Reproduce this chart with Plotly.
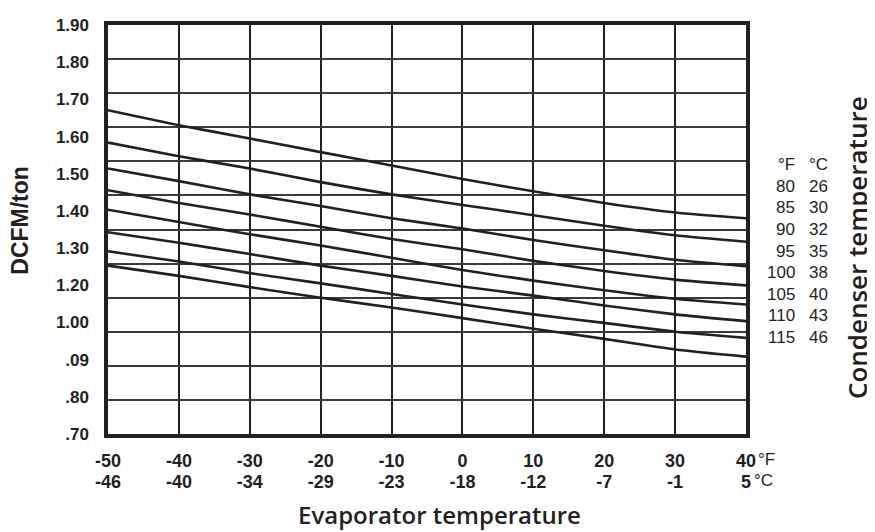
import plotly.graph_objects as go

# ---- data ----
evap_F = [-50, -40, -30, -20, -10, 0, 10, 20, 30, 40]
evap_C = [-46, -40, -34, -29, -23, -18, -12, -7, -1, 5]

cond_F = [80, 85, 90, 95, 100, 105, 110, 115]
cond_C = [26, 30, 32, 35, 38, 40, 43, 46]

dcfm_80 = [1.650, 1.606, 1.567, 1.527, 1.488, 1.448, 1.412, 1.378, 1.350, 1.333]
dcfm_85 = [1.555, 1.515, 1.479, 1.439, 1.403, 1.372, 1.342, 1.311, 1.283, 1.264]
dcfm_90 = [1.479, 1.442, 1.403, 1.369, 1.333, 1.303, 1.269, 1.239, 1.211, 1.192]
dcfm_95 = [1.415, 1.378, 1.344, 1.308, 1.272, 1.242, 1.208, 1.178, 1.153, 1.136]
dcfm_100 = [1.358, 1.322, 1.286, 1.253, 1.217, 1.181, 1.150, 1.122, 1.097, 1.080]
dcfm_105 = [1.292, 1.261, 1.228, 1.194, 1.164, 1.133, 1.106, 1.077, 1.051, 1.031]
dcfm_110 = [1.236, 1.206, 1.172, 1.142, 1.111, 1.080, 1.051, 1.026, 1.000, 0.982]
dcfm_115 = [1.194, 1.164, 1.131, 1.100, 1.071, 1.040, 1.009, 0.979, 0.948, 0.927]
curves = [dcfm_80, dcfm_85, dcfm_90, dcfm_95, dcfm_100, dcfm_105, dcfm_110, dcfm_115]

grid_vals = [0.7, 0.8, 0.9, 1.0, 1.1, 1.2, 1.3, 1.4, 1.5, 1.6, 1.7, 1.8, 1.9]
y_labels = [".70", ".80", ".09", "1.00", "1.20", "1.30", "1.40", "1.50", "1.60", "1.70", "1.80", "1.90"]

Y_MIN, Y_MAX = 0.7, 1.9
INK = "#231f20"

# page has an 8px body margin: figure coords = page coords - 8
OFF = 8
W, H = 875 - OFF, 532 - OFF
ML, MR, MT, MB = 108 - OFF, 129, 16 - OFF, 98

fig = go.Figure()
for vals, f in zip(curves, cond_F):
    fig.add_trace(go.Scatter(
        x=evap_F, y=vals, mode="lines", name=f"{f} °F",
        line=dict(color=INK, width=2.6, shape="spline", smoothing=0.6),
        showlegend=False, hoverinfo="skip"))

label_pos = [Y_MIN + i * (Y_MAX - Y_MIN) / (len(y_labels) - 1) for i in range(len(y_labels))]
fig.add_trace(go.Scatter(x=[evap_F[0]], y=[Y_MIN], yaxis="y2", mode="markers",
                         marker=dict(opacity=0), showlegend=False, hoverinfo="skip"))
fig.add_trace(go.Scatter(x=[evap_F[0]], y=[Y_MIN], xaxis="x2", mode="markers",
                         marker=dict(opacity=0), showlegend=False, hoverinfo="skip"))

bold = dict(family="Liberation Sans, Arial", color=INK, weight="bold")

fig.update_layout(
    width=W, height=H,
    margin=dict(l=ML, r=MR, t=MT, b=MB, pad=0),
    paper_bgcolor="white", plot_bgcolor="white",
    xaxis=dict(range=[-50, 40], tickvals=evap_F, ticktext=[str(v) for v in evap_F],
               showgrid=True, gridcolor=INK, gridwidth=2,
               showline=True, mirror=True, linecolor=INK, linewidth=4,
               ticks="", ticklabelstandoff=7, tickfont=dict(size=18, **bold), zeroline=False),
    xaxis2=dict(range=[-50, 40], overlaying="x", anchor="y", side="bottom",
                tickvals=evap_F, ticktext=[str(v) for v in evap_C],
                showgrid=False, showline=False, zeroline=False, ticks="",
                ticklabelstandoff=35, tickfont=dict(size=18, **bold)),
    yaxis=dict(range=[Y_MIN, Y_MAX], tickvals=grid_vals, showticklabels=False,
               showgrid=True, gridcolor="#3a3a3a", gridwidth=2,
               showline=True, mirror=True, linecolor=INK, linewidth=4,
               ticks="", zeroline=False),
    yaxis2=dict(range=[Y_MIN, Y_MAX], overlaying="y", anchor="x", side="left",
                tickvals=label_pos, ticktext=y_labels, showgrid=False,
                showline=False, zeroline=False, ticks="", ticklabelstandoff=18,
                tickfont=dict(size=17, **bold)),
)

reg = dict(family="Liberation Sans, Arial", size=17, color=INK)
ann = []
ann.append(dict(text="DCFM/ton", x=20, y=216, textangle=-90, xanchor="center",
                font=dict(size=23, **bold)))
ann.append(dict(text="Evaporator temperature", x=439, y=516, xanchor="center",
                font=dict(family="Open Sans", size=24, color=INK, weight=600)))
ann.append(dict(text="Condenser temperature", x=857, y=244, textangle=-90, xanchor="center",
                font=dict(family="Open Sans", size=26, color=INK, weight=600)))
ann.append(dict(text="°F", x=756, y=460, xanchor="left", font=reg))
ann.append(dict(text="°C", x=752, y=482, xanchor="left", font=reg))
ann.append(dict(text="°F", x=797, y=159, xanchor="right", font=reg))
ann.append(dict(text="°C", x=830, y=159, xanchor="right", font=reg))
for i, (f, c) in enumerate(zip(cond_F, cond_C)):
    yy = 181 + i * 22
    ann.append(dict(text=str(f), x=797, y=yy, xanchor="right", font=reg))
    ann.append(dict(text=str(c), x=830, y=yy, xanchor="right", font=reg))

pw, ph = W - ML - MR, H - MT - MB
for a in ann:
    a["x"] = (a["x"] - OFF - ML) / pw
    a["y"] = 1 - (a["y"] - OFF - MT) / ph
    a["xref"] = "paper"
    a["yref"] = "paper"
    a["yanchor"] = "middle"
    a["showarrow"] = False
fig.update_layout(annotations=ann)

fig.write_html("out.html")
